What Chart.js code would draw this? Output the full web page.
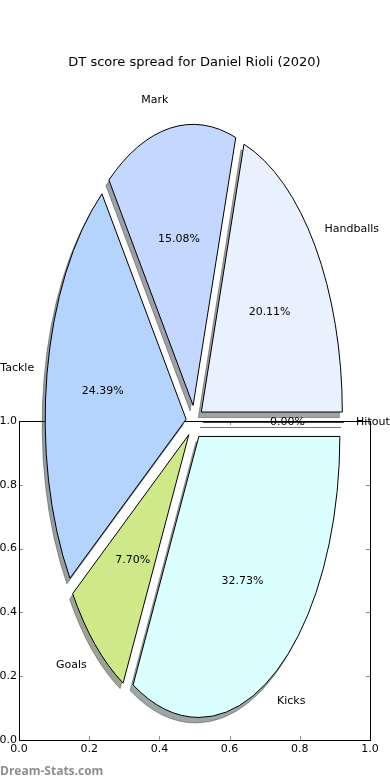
<!DOCTYPE html>
<html>
<head>
<meta charset="utf-8">
<script src="https://cdn.jsdelivr.net/npm/chart.js"></script>
<style>
  html, body { margin: 0; padding: 0; background: #fff; }
  #wrap { position: relative; width: 390px; height: 780px; overflow: hidden; }
  #wrap canvas { position: absolute; left: 0; top: 0; }
  #brand { position: absolute; left: 0; top: 765px; font: bold 12px/12px "Open Sans"; color: #8e8e8e; }
</style>
</head>
<body>
<div id="wrap">
  <canvas id="frame" width="390" height="780"></canvas>
  <canvas id="pie" width="390" height="780"></canvas>
  <div id="brand">Dream-Stats.com</div>
</div>
<script>
// slices, counter-clockwise from 3 o'clock like the original
const categories = ["Handballs", "Mark", "Tackle", "Goals", "Kicks", "Hitout"];
const shares = [20.11, 15.08, 24.39, 7.70, 32.73, 0.00];
const sliceColors = ["#eaf1fe", "#c4d8ff", "#b4d4fe", "#cfe98a", "#dbffff", "#ffe4e1"];
const axisTicks = [0.0, 0.2, 0.4, 0.6, 0.8, 1.0];

const chartTitle = "DT score spread for Daniel Rioli (2020)";
const FONT = "DejaVu Sans";

// pie looks like an ellipse in the original (unequal axes)
const pieRadius = 141;
const stretchY = 281 / pieRadius;
const explode = 0.06;
const shadowShift = { x: -3, y: 5.5 };

// Chart.js goes clockwise, so feed slices in reverse and start at 3 o'clock
const order = categories.map((_, i) => categories.length - 1 - i);

function explodeShift(arc) {
  const mid = (arc.startAngle + arc.endAngle) / 2;
  return {
    x: explode * arc.outerRadius * Math.cos(mid),
    y: explode * arc.outerRadius * Math.sin(mid) * stretchY
  };
}

function wedgePath(ctx, arc, sx, sy) {
  // build the path in stretched space, stroke later with a normal transform
  ctx.save();
  ctx.translate(arc.x + sx, arc.y + sy);
  ctx.scale(1, stretchY);
  ctx.beginPath();
  ctx.moveTo(0, 0);
  ctx.arc(0, 0, arc.outerRadius, arc.startAngle, arc.endAngle);
  ctx.closePath();
  ctx.restore();
}

function shadowOf(hex) {
  const n = parseInt(hex.slice(1), 16);
  const r = Math.round(0.3 * (n >> 16 & 255));
  const g = Math.round(0.3 * (n >> 8 & 255));
  const b = Math.round(0.3 * (n & 255));
  return `rgba(${r},${g},${b},0.5)`;
}

const stretchedPie = {
  id: 'stretchedPie',
  beforeDatasetsDraw(chart) {
    const ctx = chart.ctx;
    const arcs = chart.getDatasetMeta(0).data;
    const colors = chart.data.datasets[0].backgroundColor;

    // shadows under every wedge
    arcs.forEach((arc, i) => {
      const o = explodeShift(arc);
      wedgePath(ctx, arc, o.x + shadowShift.x, o.y + shadowShift.y);
      ctx.fillStyle = shadowOf(colors[i]);
      ctx.strokeStyle = shadowOf(colors[i]);
      ctx.lineWidth = 1;
      ctx.fill();
      ctx.stroke();
    });

    arcs.forEach((arc, i) => {
      const o = explodeShift(arc);
      wedgePath(ctx, arc, o.x, o.y);
      ctx.fillStyle = colors[i];
      ctx.fill();
      ctx.strokeStyle = '#000';
      ctx.lineWidth = 1;
      ctx.lineJoin = 'miter';
      ctx.stroke();
    });
    return false;
  },
  afterDraw(chart) {
    const ctx = chart.ctx;
    const arcs = chart.getDatasetMeta(0).data;
    const values = chart.data.datasets[0].data;
    const labels = chart.data.labels;
    ctx.save();
    ctx.font = `11px "${FONT}"`;
    ctx.fillStyle = '#000';
    ctx.textBaseline = 'middle';
    arcs.forEach((arc, i) => {
      const mid = (arc.startAngle + arc.endAngle) / 2;
      const c = Math.cos(mid), s = Math.sin(mid);
      const R = arc.outerRadius;
      // category name just outside the rim
      const lr = explode + 1.1;
      const left = c > -1e-9;
      ctx.textAlign = left ? 'left' : 'right';
      ctx.fillText(labels[i], arc.x + lr * R * c + (left ? -2 : 1), arc.y + lr * R * s * stretchY);
      // percentage inside
      const pr = explode + 0.6;
      ctx.textAlign = 'center';
      ctx.fillText(values[i].toFixed(2) + '%', arc.x + pr * R * c, arc.y + pr * R * s * stretchY);
    });
    ctx.restore();
  }
};

new Chart(document.getElementById('pie'), {
  type: 'pie',
  data: {
    labels: order.map(i => categories[i]),
    datasets: [{
      data: order.map(i => shares[i]),
      backgroundColor: order.map(i => sliceColors[i]),
      borderColor: '#000',
      borderWidth: 1
    }]
  },
  options: {
    responsive: false,
    animation: false,
    events: [],
    rotation: 90,
    radius: pieRadius,
    layout: { padding: { left: 0, right: 1, top: 0, bottom: 6.6 } },
    plugins: {
      legend: { display: false },
      tooltip: { enabled: false },
      title: {
        display: true,
        text: chartTitle,
        color: '#000',
        font: { family: FONT, size: 13, weight: 'normal' },
        padding: { top: 55, bottom: 0 }
      }
    }
  },
  plugins: [stretchedPie]
});

// the empty 0..1 axes frame behind the pie
const axesBox = {
  id: 'axesBox',
  afterDraw(chart) {
    const { ctx, chartArea: a, scales } = chart;
    ctx.save();
    ctx.strokeStyle = 'rgba(0,0,0,0.45)';
    ctx.lineWidth = 1;
    ctx.beginPath();
    axisTicks.forEach(v => {
      const x = Math.round(scales.x.getPixelForValue(v)) + 0.5;
      const y = Math.round(scales.y.getPixelForValue(v)) + 0.5;
      ctx.moveTo(x, a.bottom); ctx.lineTo(x, a.bottom - 4);
      ctx.moveTo(x, a.top); ctx.lineTo(x, a.top + 4);
      ctx.moveTo(a.left, y); ctx.lineTo(a.left + 4, y);
      ctx.moveTo(a.right, y); ctx.lineTo(a.right - 4, y);
    });
    ctx.stroke();
    ctx.strokeStyle = '#000';
    ctx.strokeRect(Math.round(a.left) + 0.5, Math.round(a.top) + 0.5,
      Math.round(a.right - a.left), Math.round(a.bottom - a.top));
    ctx.restore();
  }
};

const tickFont = { family: FONT, size: 11 };
new Chart(document.getElementById('frame'), {
  type: 'scatter',
  data: { datasets: [] },
  options: {
    responsive: false,
    animation: false,
    events: [],
    layout: { padding: { left: 0, top: 421, right: 20, bottom: 0 } },
    plugins: { legend: { display: false }, tooltip: { enabled: false } },
    scales: {
      x: {
        type: 'linear', min: 0, max: 1,
        afterBuildTicks: s => { s.ticks = axisTicks.map(v => ({ value: v })); },
        afterFit: s => { s.height = 40; },
        grid: { display: false, drawTicks: false },
        border: { display: false },
        ticks: { color: '#000', padding: 3, font: tickFont, maxRotation: 0, autoSkip: false,
          callback: v => Number(v).toFixed(1) }
      },
      y: {
        type: 'linear', min: 0, max: 1,
        afterBuildTicks: s => { s.ticks = axisTicks.map(v => ({ value: v })); },
        afterFit: s => { s.width = 19; },
        grid: { display: false, drawTicks: false },
        border: { display: false },
        ticks: { color: '#000', padding: 2, font: tickFont, autoSkip: false,
          callback: v => Number(v).toFixed(1) }
      }
    }
  },
  plugins: [axesBox]
});
</script>
</body>
</html>
